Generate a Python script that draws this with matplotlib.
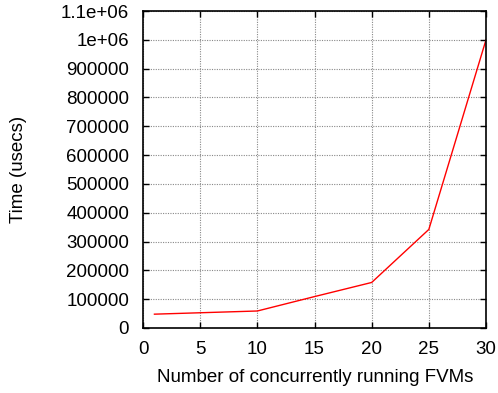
import matplotlib
matplotlib.use("Agg")
import matplotlib.pyplot as plt
from matplotlib.ticker import FixedLocator, FixedFormatter

x_vals = [1, 10, 15, 20, 25, 30]
y_vals = [48000, 59000, 109000, 158000, 342000, 1000000]
x_ticks = [0, 5, 10, 15, 20, 25, 30]
y_ticks = [0, 100000, 200000, 300000, 400000, 500000, 600000, 700000, 800000, 900000, 1000000, 1100000]
y_tick_labels = ["0", "100000", "200000", "300000", "400000", "500000", "600000",
                 "700000", "800000", "900000", "1e+06", "1.1e+06"]

plt.rcParams['font.family'] = ['Liberation Sans', 'DejaVu Sans']
plt.rcParams['font.size'] = 13.5

fig = plt.figure(figsize=(4.98, 3.93), dpi=100)
ax = fig.add_axes([143/498, 1 - 328/393, (486-143)/498, (328-11)/393])
ax.plot(x_vals, y_vals, color='red', lw=1.0)
ax.set_xlim(0, 30)
ax.set_ylim(0, 1100000)
ax.xaxis.set_major_locator(FixedLocator(x_ticks))
ax.yaxis.set_major_locator(FixedLocator(y_ticks))
ax.yaxis.set_major_formatter(FixedFormatter(y_tick_labels))
ax.grid(True, color='#888888', linestyle=(0, (1, 1.2)), lw=0.8)
ax.tick_params(direction='in', top=True, right=True, length=4, width=1, colors='black', labelsize=13.5)
ax.tick_params(axis='x', pad=9)
ax.tick_params(axis='y', pad=10)
for s in ax.spines.values():
    s.set_linewidth(1.2)
ax.set_xlabel("Number of concurrently running FVMs", fontsize=13.5)
ax.set_ylabel("Time (usecs)", fontsize=13.5)
ax.xaxis.set_label_coords((315 - 143) / (486 - 143), -(369 - 328) / (328 - 11))
ax.yaxis.set_label_coords(-(143 - 27) / (486 - 143), 0.5)
fig.savefig("out.png", dpi=100)
